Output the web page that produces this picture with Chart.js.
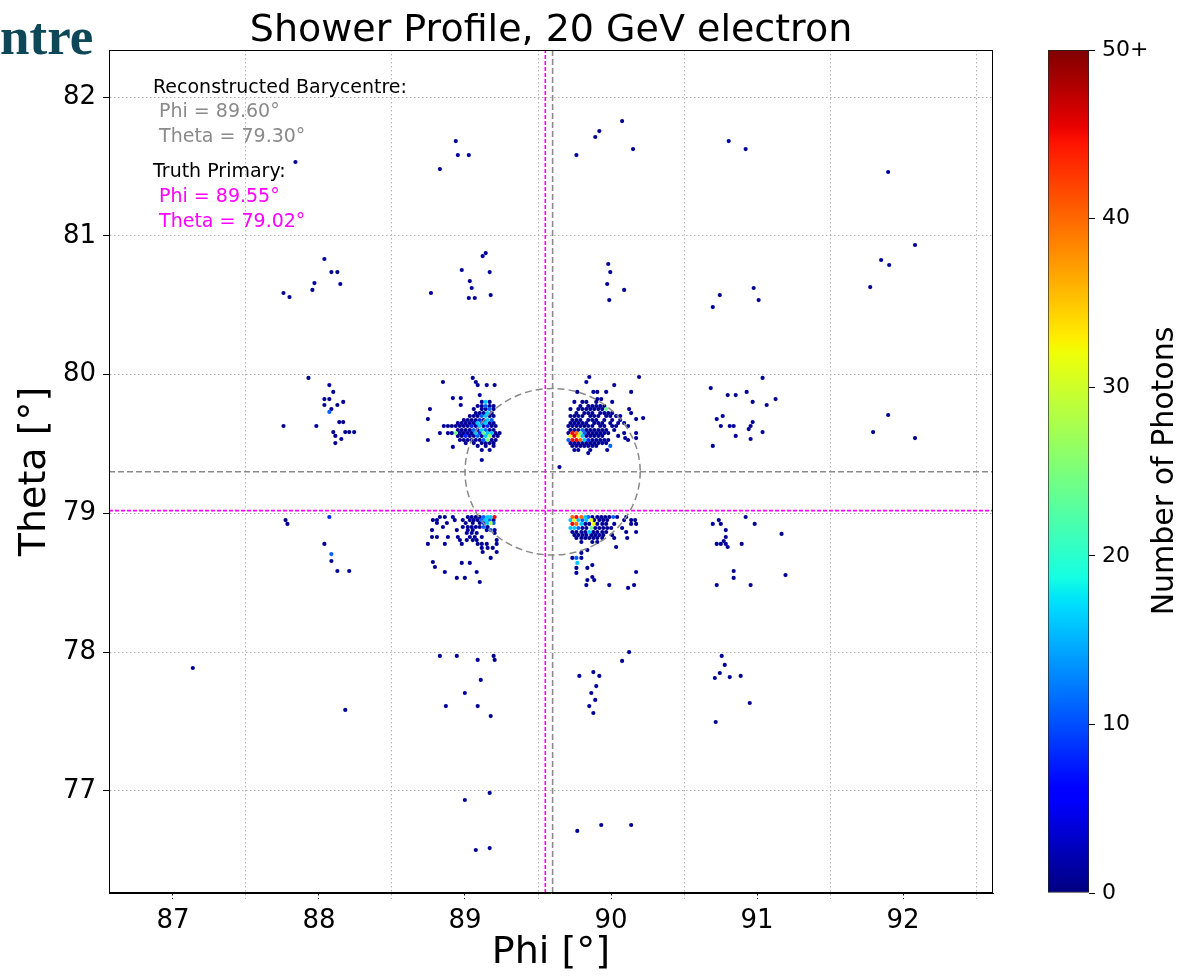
<!DOCTYPE html>
<html>
<head>
<meta charset="utf-8">
<script src="https://cdn.jsdelivr.net/npm/chart.js@4.4.1/dist/chart.umd.min.js"></script>
<style>
  body { margin: 0; background: #fff; width: 1188px; height: 976px; overflow: hidden; position: relative; }
  #main { position: absolute; left: 0; top: 0; }
  #cbar { position: absolute; left: 1040px; top: 0; }
  #slideTitle { position: absolute; left: 0; top: 10px; font-family: "Liberation Serif", serif; font-weight: bold; font-size: 53px; line-height: 1; color: #0e4757; }
</style>
</head>
<body>
<canvas id="main" width="1040" height="976"></canvas>
<canvas id="cbar" width="148" height="976"></canvas>
<div id="slideTitle">ntre</div>
<script>
// --- axes (degrees) ---
const phiLimits = [86.562, 92.616];
const thetaLimits = [76.265, 82.339];
const phiTicks = [87, 87.5, 88, 88.5, 89, 89.5, 90, 90.5, 91, 91.5, 92, 92.5];
const thetaTicks = [77, 78, 79, 80, 81, 82];
const photonTicks = [0, 10, 20, 30, 40, 50];
const photonMax = 50;

// --- reference positions ---
const recoPhi = 89.60, recoTheta = 79.30;
const truthPhi = 89.55, truthTheta = 79.02;
const recoRadius = 0.6;

// --- single-photon hexbins, one row per theta: [theta, [phi, ...]] ---
const upperLeftRows = [
  [79.803, [89.115, 89.169]],
  [79.774, [89.087, 89.115, 89.169, 89.196]],
  [79.752, [89.060, 89.115, 89.142, 89.196]],
  [79.723, [89.074, 89.101, 89.128, 89.183]],
  [79.702, [89.033, 89.060, 89.087, 89.169, 89.196]],
  [79.673, [88.992, 89.019, 89.046, 89.074, 89.128]],
  [79.651, [88.951, 88.978, 89.005, 89.033, 89.060, 89.169, 89.196]],
  [79.630, [88.855, 88.883, 88.910, 88.937, 88.965, 88.992, 89.019, 89.074, 89.128, 89.183, 89.210]],
  [79.601, [88.951, 88.978, 89.005, 89.033, 89.087, 89.169, 89.196]],
  [79.579, [88.883, 88.910, 88.965, 88.992, 89.019, 89.046, 89.210, 89.237]],
  [79.558, [88.951, 88.978, 89.033, 89.060, 89.115, 89.196, 89.224]],
  [79.529, [88.965, 88.992, 89.019, 89.046, 89.074, 89.101, 89.183, 89.210]],
  [79.507, [89.005, 89.060, 89.115, 89.142, 89.169, 89.196]],
  [79.486, [89.087, 89.142, 89.196]],
  [79.457, [89.115, 89.169]]
];
const upperRightRows = [
  [79.824, [89.906, 89.933]],
  [79.803, [89.749, 89.804, 89.831, 89.899, 90.008]],
  [79.774, [89.790, 89.844, 89.872, 89.899, 89.926, 89.954]],
  [79.752, [89.722, 89.776, 89.804, 89.831, 89.858, 89.885, 89.913, 89.940]],
  [79.723, [89.763, 89.817, 89.844, 89.872, 89.926, 89.954, 89.981, 90.008]],
  [79.702, [89.722, 89.749, 89.776, 89.804, 89.858, 89.885, 89.913, 89.967, 89.995, 90.035, 90.063]],
  [79.673, [89.735, 89.763, 89.790, 89.844, 89.872, 89.899, 89.954, 90.008, 90.063]],
  [79.651, [89.722, 89.749, 89.776, 89.804, 89.831, 89.885, 89.913, 89.940, 89.995, 90.049, 90.090]],
  [79.630, [89.708, 89.735, 89.763, 89.790, 89.817, 89.844, 89.872, 89.926, 89.954, 90.008, 90.035, 90.117]],
  [79.601, [89.722, 89.749, 89.776, 89.831, 89.858, 89.885, 89.913, 89.940, 89.967, 90.022]],
  [79.579, [89.708, 89.844, 89.872, 89.899, 89.926, 89.954, 89.981, 90.090, 90.172]],
  [79.558, [89.831, 89.858, 89.885, 89.913, 89.940, 90.049]],
  [79.529, [89.872, 89.899, 89.926, 89.954, 89.981, 90.117]],
  [79.507, [89.722, 89.749, 89.776, 89.804, 89.831, 89.858, 89.885, 89.913, 89.940, 89.967]],
  [79.486, [89.735, 89.763, 89.790, 89.817, 89.844, 89.872, 89.899]],
  [79.457, [89.749, 89.776, 89.858, 89.974]],
  [79.435, [89.844]]
];
const lowerLeftRows = [
  [78.974, [88.828, 88.862, 88.917, 89.019, 89.046, 89.074, 89.101]],
  [78.952, [88.780, 88.808, 88.930, 88.985, 89.033, 89.060, 89.087, 89.196]],
  [78.931, [88.808, 88.876, 89.005, 89.053, 89.101]],
  [78.902, [88.849, 88.985, 89.019, 89.046, 89.074, 89.101, 89.155]],
  [78.880, [88.774, 88.944, 89.019, 89.053, 89.149, 89.203]],
  [78.859, [89.012, 89.046, 89.080, 89.203]],
  [78.830, [88.774, 88.808, 88.883, 88.951, 89.033, 89.067, 89.115]],
  [78.808, [88.965, 89.012, 89.053, 89.080, 89.217]],
  [78.780, [88.746, 88.862, 88.978, 89.087, 89.115, 89.149, 89.217]],
  [78.751, [89.115, 89.155, 89.190]],
  [78.722, [89.121, 89.217]],
  [78.679, [89.176]],
  [78.650, [88.780]],
  [78.643, [88.978, 89.033]],
  [78.614, [88.794]],
  [78.578, [88.862, 89.080]],
  [78.535, [88.944, 88.999]],
  [78.506, [89.101]]
];
const lowerRightRows = [
  [78.974, [89.872, 89.906, 89.933, 89.960, 89.988, 90.042, 90.104]],
  [78.952, [89.885, 89.920, 89.947, 89.974, 90.090, 90.138, 90.165]],
  [78.924, [89.824, 89.851, 89.906, 89.940, 89.967, 90.022, 90.138, 90.172]],
  [78.895, [89.804, 89.831, 89.892, 89.920, 89.947, 89.974, 90.001, 90.076]],
  [78.866, [89.735, 89.763, 89.797, 89.824, 89.879, 89.906, 89.940, 89.967, 90.104, 90.172]],
  [78.844, [89.749, 89.776, 89.804, 89.831, 89.865, 89.892, 89.920, 89.947, 90.008]],
  [78.823, [89.763, 89.797, 89.824, 89.851, 89.879, 89.906, 89.940, 90.022, 90.111]],
  [78.794, [89.797, 89.872, 89.906]],
  [78.758, [90.035]],
  [78.736, [89.838]],
  [78.715, [89.797]],
  [78.679, [89.735, 89.797]],
  [78.628, [89.872]],
  [78.607, [89.763, 89.838]],
  [78.578, [90.172]],
  [78.571, [89.763]],
  [78.542, [89.872]],
  [78.520, [89.838, 89.885]],
  [78.484, [89.831, 89.988, 90.158]],
  [78.463, [90.117]]
];

// --- multi-photon bins: [phi, theta, photons] ---
const hotBins = [
  [89.142, 79.803, 16], [89.142, 79.774, 11], [89.169, 79.752, 11], [89.155, 79.723, 16],
  [89.115, 79.702, 11], [89.142, 79.702, 16], [89.101, 79.673, 8], [89.155, 79.673, 16],
  [89.183, 79.673, 11], [89.087, 79.651, 16], [89.115, 79.651, 11], [89.142, 79.651, 16],
  [89.046, 79.630, 8], [89.101, 79.630, 16], [89.155, 79.630, 8], [89.060, 79.601, 11],
  [89.115, 79.601, 16], [89.142, 79.601, 11], [88.937, 79.579, 24], [89.074, 79.579, 16],
  [89.101, 79.579, 8], [89.128, 79.579, 24], [89.155, 79.579, 16], [89.183, 79.579, 16],
  [89.005, 79.558, 8], [89.087, 79.558, 11], [89.142, 79.558, 16], [89.169, 79.558, 26],
  [89.128, 79.529, 11], [89.155, 79.529, 24],
  [89.967, 79.752, 24], [89.804, 79.601, 11], [89.735, 79.579, 45], [89.763, 79.579, 40],
  [89.790, 79.579, 24], [89.817, 79.579, 11], [89.722, 79.558, 32], [89.749, 79.558, 45],
  [89.776, 79.558, 32], [89.804, 79.558, 16], [89.708, 79.529, 11], [89.735, 79.529, 45],
  [89.763, 79.529, 45], [89.790, 79.529, 40], [89.817, 79.529, 16], [89.844, 79.529, 8],
  [89.995, 79.486, 11],
  [89.128, 78.974, 11], [89.155, 78.974, 16], [89.176, 78.974, 16], [89.203, 78.974, 45],
  [89.115, 78.952, 11], [89.142, 78.952, 16], [89.169, 78.952, 11], [89.128, 78.931, 8],
  [89.155, 78.931, 16], [89.176, 78.931, 28], [89.196, 78.931, 11], [89.128, 78.902, 11],
  [89.176, 78.880, 11],
  [89.735, 78.974, 40], [89.763, 78.974, 45], [89.797, 78.974, 40], [89.824, 78.974, 16],
  [89.844, 78.974, 11], [90.015, 78.974, 11], [89.722, 78.952, 16], [89.749, 78.952, 32],
  [89.776, 78.952, 16], [89.804, 78.952, 11], [89.831, 78.952, 16], [89.865, 78.952, 32],
  [89.735, 78.924, 45], [89.763, 78.924, 40], [89.797, 78.924, 16], [89.879, 78.924, 32],
  [89.722, 78.895, 16], [89.749, 78.895, 16], [89.776, 78.895, 11], [89.865, 78.895, 24],
  [89.851, 78.866, 16], [89.763, 78.679, 11], [89.769, 78.643, 16]
];

// --- isolated bins away from the four clusters: [phi, theta, photons] ---
const strayBins = [
  [89.053, 79.976, 1], [89.074, 79.947, 1], [89.087, 79.925, 1], [89.149, 79.925, 1], [89.203, 79.925, 1],
  [88.849, 79.947, 1], [88.917, 79.831, 1], [88.971, 79.831, 1], [89.101, 79.853, 1], [88.971, 79.781, 1],
  [88.760, 79.752, 1], [88.746, 79.680, 1], [88.746, 79.529, 1], [88.828, 79.579, 1], [88.917, 79.479, 1],
  [89.115, 79.385, 1],
  [89.851, 79.983, 1], [89.831, 79.947, 1], [90.022, 79.925, 1], [90.192, 79.983, 1], [89.769, 79.875, 1],
  [89.879, 79.875, 1], [89.906, 79.875, 1], [89.967, 79.875, 1], [90.138, 79.875, 1], [90.124, 79.752, 1],
  [90.138, 79.723, 1], [90.220, 79.687, 1], [90.172, 79.680, 1], [90.172, 79.543, 1], [90.097, 79.543, 1],
  [89.647, 79.334, 1],
  [88.937, 81.683, 1], [88.951, 81.582, 1], [89.026, 81.582, 1], [88.828, 81.481, 1], [89.920, 81.755, 1],
  [89.892, 81.712, 1], [90.076, 81.827, 1], [90.151, 81.625, 1], [89.763, 81.582, 1], [87.839, 81.532, 1],
  [90.806, 81.683, 1], [90.922, 81.625, 1], [91.898, 81.460, 1],
  [92.082, 80.934, 1], [91.850, 80.826, 1], [91.905, 80.790, 1], [91.775, 80.631, 1], [88.037, 80.833, 1],
  [88.085, 80.739, 1], [88.126, 80.739, 1], [88.146, 80.653, 1], [87.969, 80.660, 1], [87.955, 80.610, 1],
  [87.757, 80.588, 1], [87.798, 80.559, 1], [88.978, 80.754, 1], [89.033, 80.674, 1], [89.046, 80.624, 1],
  [89.026, 80.552, 1], [89.067, 80.552, 1], [89.142, 80.876, 1], [89.121, 80.854, 1], [89.169, 80.739, 1],
  [89.176, 80.573, 1], [88.767, 80.588, 1], [89.981, 80.797, 1], [89.995, 80.739, 1], [89.974, 80.653, 1],
  [89.988, 80.537, 1], [90.090, 80.610, 1], [90.745, 80.573, 1], [90.697, 80.487, 1], [90.977, 80.624, 1],
  [91.011, 80.537, 1],
  [87.928, 79.976, 1], [88.071, 79.925, 1], [88.098, 79.875, 1], [88.037, 79.824, 1], [88.071, 79.824, 1],
  [88.037, 79.781, 1], [88.085, 79.752, 1], [88.166, 79.803, 1], [88.126, 79.781, 1], [88.071, 79.731, 11],
  [87.757, 79.630, 1], [87.982, 79.630, 1], [88.139, 79.658, 1], [88.166, 79.658, 1], [88.098, 79.586, 1],
  [88.112, 79.558, 1], [88.180, 79.586, 1], [88.207, 79.586, 1], [88.241, 79.586, 1], [88.153, 79.536, 1],
  [88.112, 79.507, 1],
  [87.771, 78.952, 1], [87.784, 78.924, 1], [88.071, 78.974, 8], [88.037, 78.780, 1], [88.085, 78.707, 11],
  [88.085, 78.657, 1], [88.126, 78.585, 1], [88.207, 78.585, 1],
  [91.038, 79.976, 1], [90.683, 79.903, 1], [90.799, 79.853, 1], [90.854, 79.853, 1], [90.929, 79.875, 1],
  [90.970, 79.803, 1], [91.127, 79.824, 1], [91.066, 79.781, 1], [90.765, 79.702, 1], [90.724, 79.680, 1],
  [90.752, 79.630, 1], [90.813, 79.630, 1], [90.840, 79.630, 1], [90.970, 79.658, 1], [90.956, 79.630, 1],
  [90.943, 79.608, 1], [90.854, 79.558, 1], [90.956, 79.536, 1], [91.038, 79.586, 1], [90.697, 79.486, 1],
  [90.922, 78.974, 1], [90.697, 78.924, 1], [90.738, 78.952, 1], [90.752, 78.924, 1], [90.984, 78.924, 1],
  [90.786, 78.880, 1], [90.786, 78.830, 1], [90.772, 78.801, 1], [90.724, 78.780, 1], [90.752, 78.780, 1],
  [90.786, 78.780, 1], [90.799, 78.758, 1], [90.895, 78.780, 1], [91.168, 78.852, 1], [90.840, 78.585, 1],
  [90.840, 78.535, 1], [90.724, 78.484, 1], [90.956, 78.484, 1], [91.195, 78.556, 1],
  [91.898, 79.709, 1], [91.795, 79.586, 1], [92.082, 79.543, 1],
  [87.136, 77.886, 1], [88.180, 77.584, 1],
  [88.828, 77.973, 1], [88.944, 77.973, 1], [89.087, 77.944, 1], [89.196, 77.973, 1], [89.203, 77.944, 1],
  [89.108, 77.800, 1], [88.999, 77.706, 1], [88.869, 77.612, 1], [89.087, 77.612, 1], [89.176, 77.540, 1],
  [89.783, 77.829, 1], [89.879, 77.857, 1], [89.920, 77.829, 1], [89.899, 77.756, 1], [89.865, 77.706, 1],
  [89.892, 77.656, 1], [89.851, 77.612, 1], [89.879, 77.562, 1], [90.076, 77.937, 1], [90.124, 78.001, 1],
  [90.758, 77.973, 1], [90.779, 77.908, 1], [90.745, 77.850, 1], [90.711, 77.814, 1], [90.813, 77.821, 1],
  [90.888, 77.829, 1], [90.717, 77.497, 1], [90.950, 77.634, 1],
  [88.999, 76.935, 1], [89.169, 76.986, 1], [89.074, 76.575, 1], [89.169, 76.589, 1], [89.769, 76.712, 1],
  [89.933, 76.755, 1], [90.138, 76.755, 1]
];

// matplotlib "jet"
const jetR = [[0, 0], [0.35, 0], [0.66, 1], [0.89, 1], [1, 0.5]];
const jetG = [[0, 0], [0.125, 0], [0.375, 1], [0.64, 1], [0.91, 0], [1, 0]];
const jetB = [[0, 0.5], [0.11, 1], [0.34, 1], [0.65, 0], [1, 0]];

function ramp(stops, t) {
  for (let i = 1; i < stops.length; i++) {
    if (t <= stops[i][0]) {
      const [t0, v0] = stops[i - 1];
      const [t1, v1] = stops[i];
      return v0 + (v1 - v0) * (t - t0) / (t1 - t0);
    }
  }
  return stops[stops.length - 1][1];
}

function jet(t) {
  t = Math.max(0, Math.min(1, t));
  const c = [jetR, jetG, jetB].map(s => Math.round(ramp(s, t) * 255));
  return `rgb(${c[0]}, ${c[1]}, ${c[2]})`;
}

// collect bins, low counts first so the hot ones sit on top
const bins = [];
[upperLeftRows, upperRightRows, lowerLeftRows, lowerRightRows].forEach(rows => {
  rows.forEach(([theta, phis]) => phis.forEach(phi => bins.push({ x: phi, y: theta, n: 1 })));
});
strayBins.concat(hotBins).forEach(([phi, theta, n]) => bins.push({ x: phi, y: theta, n: n }));
bins.sort((a, b) => a.n - b.n);

const isHalf = v => Math.abs(v % 1 - 0.5) < 1e-6;
const tickFont = { family: 'DejaVu Sans', size: 26 };

const overlayPlugin = {
  id: 'overlay',
  afterDatasetsDraw(chart) {
    const { ctx, chartArea: a, scales: { x, y } } = chart;
    // reconstructed barycentre circle
    const cx = x.getPixelForValue(recoPhi);
    const cy = y.getPixelForValue(recoTheta);
    const rx = x.getPixelForValue(recoPhi + recoRadius) - cx;
    const ry = cy - y.getPixelForValue(recoTheta + recoRadius);
    ctx.save();
    ctx.beginPath();
    ctx.rect(a.left, a.top, a.right - a.left, a.bottom - a.top);
    ctx.clip();
    ctx.strokeStyle = '#8a8a8a';
    ctx.lineWidth = 1.5;
    ctx.setLineDash([7, 4]);
    ctx.beginPath();
    ctx.ellipse(cx, cy, rx, ry, 0, 0, Math.PI * 2);
    ctx.stroke();
    ctx.restore();

    // frame
    ctx.save();
    ctx.strokeStyle = '#000';
    ctx.lineWidth = 1;
    ctx.strokeRect(a.left + 0.5, a.top + 0.5, a.right - a.left - 1, a.bottom - a.top - 1);
    ctx.restore();
  },
  afterDraw(chart) {
    const { ctx, chartArea: a } = chart;
    ctx.save();
    ctx.textAlign = 'center';
    ctx.textBaseline = 'alphabetic';
    ctx.fillStyle = '#000';
    ctx.font = '38px "DejaVu Sans"';
    ctx.fillText('Shower Profile, 20 GeV electron', (a.left + a.right) / 2, 41);

    ctx.textAlign = 'left';
    ctx.font = '19px "DejaVu Sans"';
    const lines = [
      ['Reconstructed Barycentre:', '#000', 93],
      [' Phi = ' + recoPhi.toFixed(2) + '°', '#8a8a8a', 117],
      [' Theta = ' + recoTheta.toFixed(2) + '°', '#8a8a8a', 142],
      ['Truth Primary:', '#000', 177],
      [' Phi = ' + truthPhi.toFixed(2) + '°', '#ff00ff', 202],
      [' Theta = ' + truthTheta.toFixed(2) + '°', '#ff00ff', 227]
    ];
    lines.forEach(([text, colour, yPos]) => {
      ctx.fillStyle = colour;
      ctx.fillText(text, 153, yPos);
    });
    ctx.restore();
  }
};

const vLine = (phi) => [{ x: phi, y: thetaLimits[0] }, { x: phi, y: thetaLimits[1] }];
const hLine = (theta) => [{ x: phiLimits[0], y: theta }, { x: phiLimits[1], y: theta }];
const lineStyle = (colour, width, dash) => ({
  type: 'line', showLine: true, borderColor: colour, borderWidth: width, borderDash: dash,
  pointRadius: 0, pointHoverRadius: 0, fill: false
});

new Chart(document.getElementById('main'), {
  type: 'scatter',
  data: {
    datasets: [
      {
        data: bins,
        pointRadius: 2.1,
        pointHoverRadius: 2.1,
        pointBorderWidth: 0,
        pointBackgroundColor: bins.map(b => jet(b.n / photonMax)),
        order: 3
      },
      Object.assign({ data: vLine(recoPhi), order: 2 }, lineStyle('#8a8a8a', 1.6, [6, 3])),
      Object.assign({ data: hLine(recoTheta), order: 2 }, lineStyle('#8a8a8a', 1.6, [6, 3])),
      Object.assign({ data: vLine(truthPhi), order: 1 }, lineStyle('#ff00ff', 1.6, [4, 2])),
      Object.assign({ data: hLine(truthTheta), order: 1 }, lineStyle('#ff00ff', 1.6, [4, 2]))
    ]
  },
  options: {
    responsive: false,
    animation: false,
    events: [],
    layout: { padding: { top: 50, right: 47, left: 0, bottom: 0 } },
    plugins: { legend: { display: false }, tooltip: { enabled: false } },
    scales: {
      x: {
        type: 'linear',
        min: phiLimits[0],
        max: phiLimits[1],
        afterBuildTicks: s => { s.ticks = phiTicks.map(v => ({ value: v })); },
        afterFit: s => { s.height = 83; },
        ticks: {
          autoSkip: false, maxRotation: 0, padding: 7, color: '#000', font: tickFont,
          callback: v => Number.isInteger(v) ? String(v) : ''
        },
        grid: {
          color: c => (c.tick && isHalf(c.tick.value)) ? '#b3b3b3' : 'rgba(0,0,0,0)',
          tickColor: c => (c.tick && isHalf(c.tick.value)) ? '#b3b3b3' : '#000',
          lineWidth: 1, tickLength: 6, tickBorderDash: [1.5, 2.5]
        },
        border: { display: true, color: '#000', width: 1, dash: [1.5, 2.5] },
        title: { display: true, text: 'Phi [°]', color: '#000', font: { family: 'DejaVu Sans', size: 38 }, padding: { top: 0, bottom: 0 } }
      },
      y: {
        type: 'linear',
        min: thetaLimits[0],
        max: thetaLimits[1],
        afterBuildTicks: s => { s.ticks = thetaTicks.map(v => ({ value: v })); },
        afterFit: s => { s.width = 109; },
        ticks: { padding: 7, color: '#000', font: tickFont, callback: v => String(v) },
        grid: { color: '#b3b3b3', tickColor: '#000', lineWidth: 1, tickLength: 6 },
        border: { display: true, color: '#000', width: 1, dash: [1.5, 2.5] },
        title: { display: true, text: 'Theta [°]', color: '#000', font: { family: 'DejaVu Sans', size: 38 }, padding: { top: 12, bottom: 0 } }
      }
    }
  },
  plugins: [overlayPlugin]
});

// --- colour bar ---
const colourbarTitle = {
  id: 'colourbarTitle',
  afterDraw(chart) {
    const { ctx } = chart;
    ctx.save();
    ctx.translate(125, 471);
    ctx.rotate(-Math.PI / 2);
    ctx.textAlign = 'center';
    ctx.textBaseline = 'middle';
    ctx.fillStyle = '#000';
    ctx.font = '30px "DejaVu Sans"';
    ctx.fillText('Number of Photons', 0, 0);
    ctx.restore();
  }
};

new Chart(document.getElementById('cbar'), {
  type: 'bar',
  data: {
    labels: ['photons'],
    datasets: [{
      data: [photonMax],
      barPercentage: 1,
      categoryPercentage: 1,
      borderWidth: 1,
      borderColor: '#222',
      borderSkipped: false,
      backgroundColor: c => {
        const area = c.chart.chartArea;
        if (!area) return '#000080';
        const g = c.chart.ctx.createLinearGradient(0, area.bottom, 0, area.top);
        const stops = [0, 0.11, 0.125, 0.2, 0.34, 0.35, 0.375, 0.5, 0.64, 0.65, 0.66, 0.75, 0.89, 0.91, 1];
        stops.forEach(t => g.addColorStop(t, jet(t)));
        return g;
      }
    }]
  },
  options: {
    responsive: false,
    animation: false,
    events: [],
    layout: { padding: { top: 50, left: 8, right: 0, bottom: 83 } },
    plugins: { legend: { display: false }, tooltip: { enabled: false } },
    scales: {
      x: { display: false },
      y: {
        position: 'right',
        min: 0,
        max: photonMax,
        afterBuildTicks: s => { s.ticks = photonTicks.map(v => ({ value: v })); },
        afterFit: s => { s.width = 99; },
        ticks: {
          padding: 7, color: '#000', font: { family: 'DejaVu Sans', size: 22 },
          callback: v => v === photonMax ? photonMax + '+' : String(v)
        },
        grid: { drawOnChartArea: false, drawTicks: true, tickLength: 6, tickColor: '#000' },
        border: { display: false }
      }
    }
  },
  plugins: [colourbarTitle]
});
</script>
</body>
</html>
